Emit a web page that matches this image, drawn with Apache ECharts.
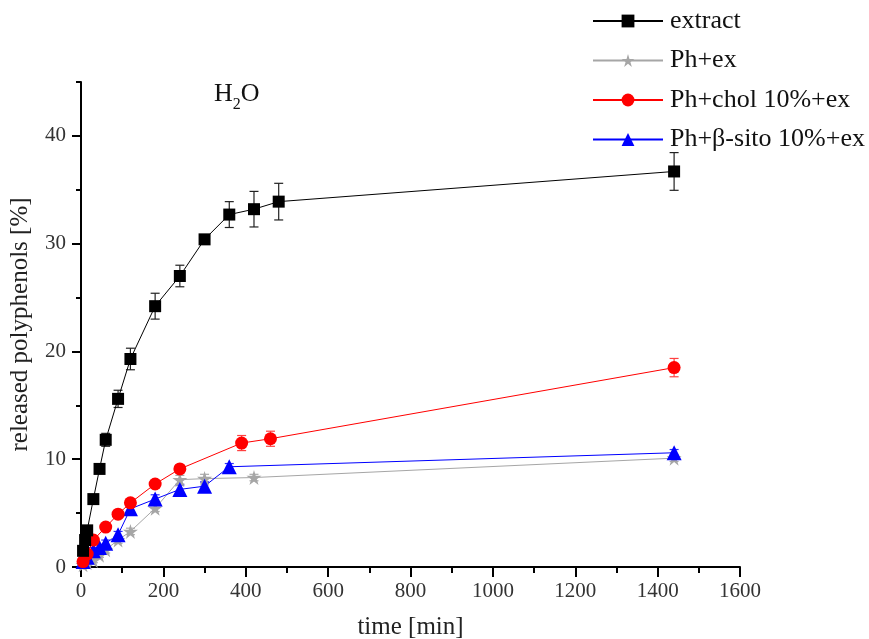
<!DOCTYPE html>
<html>
<head>
<meta charset="utf-8">
<script src="https://cdn.jsdelivr.net/npm/echarts@6/dist/echarts.min.js"></script>
<style>
  html, body { margin: 0; padding: 0; background: #fff; }
  #chart { width: 869px; height: 639px; }
</style>
</head>
<body>
<div id="chart"></div>
<script>
// Release of polyphenols in water over time
const seriesNames = ['extract', 'Ph+ex', 'Ph+chol 10%+ex', 'Ph+β-sito 10%+ex'];

const extractTime = [5, 10, 15, 30, 45, 60, 90, 120, 180, 240, 300, 360, 420, 480, 1440];
const extractVal  = [1.5, 2.5, 3.4, 6.3, 9.1, 11.8, 15.6, 19.3, 24.2, 27.0, 30.4, 32.7, 33.2, 33.9, 36.7];
const extractErr  = [0.2, 0.2, 0.3, 0.3, 0.4, 0.6, 0.8, 1.0, 1.2, 1.0, 0.3, 1.2, 1.65, 1.7, 1.75];

const phTime = [5, 15, 30, 45, 60, 90, 120, 180, 240, 300, 420, 1440];
const phVal  = [0.2, 0.4, 0.6, 1.1, 1.6, 2.5, 3.3, 5.45, 8.1, 8.2, 8.3, 10.1];
const phErr  = [0.1, 0.2, 0.2, 0.2, 0.3, 0.3, 0.3, 0.3, 0.4, 0.4, 0.3, 0.3];

const cholTime = [5, 15, 30, 60, 90, 120, 180, 240, 390, 460, 1440];
const cholVal  = [0.5, 1.2, 2.5, 3.7, 4.9, 5.95, 7.7, 9.1, 11.5, 11.9, 18.5];
const cholErr  = [0.2, 0.3, 0.3, 0.3, 0.3, 0.3, 0.3, 0.3, 0.7, 0.7, 0.85];

const sitoTime = [5, 15, 30, 45, 60, 90, 120, 180, 240, 300, 360, 1440];
const sitoVal  = [0.5, 0.9, 1.5, 1.8, 2.2, 3.0, 5.4, 6.3, 7.2, 7.5, 9.3, 10.6];
const sitoErr  = [0.2, 0.2, 0.3, 0.3, 0.3, 0.3, 0.4, 0.4, 0.4, 0.4, 0.3, 0.3];

const xTickLabels = [0, 200, 400, 600, 800, 1000, 1200, 1400, 1600];
const yTickLabels = [0, 10, 20, 30, 40];
const yMinorTicks = [5, 15, 25, 35, 45];

const FONT = 'Liberation Serif';
const STAR = 'path://M50,0 L61,35 L98,35 L68,57 L79,92 L50,70 L21,92 L32,57 L2,35 L39,35 Z';

function pairs(t, v) { return t.map((x, i) => [x, v[i]]); }
function errTriples(t, v, e) { return t.map((x, i) => [x, v[i] - e[i], v[i] + e[i]]); }

function errorSeries(t, v, e, color) {
  return {
    type: 'custom',
    z: 1,
    silent: true,
    data: errTriples(t, v, e),
    renderItem: function (params, api) {
      const lo = api.coord([api.value(0), api.value(1)]);
      const hi = api.coord([api.value(0), api.value(2)]);
      const hw = 4.5;
      const st = { stroke: color, lineWidth: 1.2 };
      return {
        type: 'group',
        children: [
          { type: 'line', shape: { x1: lo[0], y1: lo[1], x2: hi[0], y2: hi[1] }, style: st },
          { type: 'line', shape: { x1: lo[0] - hw, y1: lo[1], x2: lo[0] + hw, y2: lo[1] }, style: st },
          { type: 'line', shape: { x1: hi[0] - hw, y1: hi[1], x2: hi[0] + hw, y2: hi[1] }, style: st }
        ]
      };
    }
  };
}

function lineSeries(name, t, v, color, symbol, size) {
  return {
    name: name,
    type: 'line',
    z: 3,
    data: pairs(t, v),
    symbol: symbol,
    symbolSize: size,
    showAllSymbol: true,
    lineStyle: { color: color, width: 1 },
    itemStyle: { color: color },
    emphasis: { disabled: true },
    animation: false
  };
}

const chart = echarts.init(document.getElementById('chart'), null, { renderer: 'canvas' });

chart.setOption({
  animation: false,
  backgroundColor: '#fff',
  textStyle: { fontFamily: FONT },
  title: {
    text: '{a|H}{b|2}{a|O}',
    left: 209,
    top: 72,
    textStyle: {
      fontWeight: 'normal',
      rich: {
        a: { fontFamily: FONT, fontSize: 26, fontWeight: 'normal', color: '#111', lineHeight: 30, verticalAlign: 'bottom' },
        b: { fontFamily: FONT, fontSize: 16, fontWeight: 'normal', color: '#111', lineHeight: 30, verticalAlign: 'bottom', padding: [0, 0, -6, 0] }
      }
    }
  },
  legend: {
    orient: 'vertical',
    left: 592,
    top: 8,
    padding: 0,
    itemWidth: 70,
    itemHeight: 16,
    itemGap: 13.5,
    itemStyle: { borderWidth: 0 },
    textStyle: { fontFamily: FONT, fontSize: 26, color: '#111', padding: [0, 0, 0, 2] },
    data: seriesNames
  },
  grid: { left: 81, right: 129, top: 82, bottom: 72, containLabel: false, outerBoundsMode: 'none' },
  xAxis: {
    type: 'value',
    min: 0,
    max: 1600,
    interval: 200,
    name: 'time [min]',
    nameLocation: 'middle',
    nameGap: 48,
    nameTextStyle: { fontFamily: FONT, fontSize: 25, color: '#222' },
    axisLine: { show: true, lineStyle: { color: '#000', width: 2 } },
    axisTick: { show: true, length: 10, lineStyle: { color: '#000', width: 2 } },
    minorTick: { show: true, splitNumber: 2, length: 6, lineStyle: { color: '#000', width: 2 } },
    axisLabel: { fontFamily: FONT, fontSize: 21, color: '#333', margin: 14,
                 customValues: xTickLabels, formatter: v => String(v) },
    splitLine: { show: false }
  },
  yAxis: [
    {
      type: 'value',
      min: 0,
      max: 45,
      interval: 5,
      name: 'released polyphenols [%]',
      nameLocation: 'middle',
      nameGap: 48,
      nameTextStyle: { fontFamily: FONT, fontSize: 25, color: '#222' },
      axisLine: { show: true, lineStyle: { color: '#000', width: 2 } },
      axisTick: { show: true, length: 9, lineStyle: { color: '#000', width: 2 }, customValues: yTickLabels },
      axisLabel: { fontFamily: FONT, fontSize: 21, color: '#333', margin: 15,
                   customValues: yTickLabels, formatter: v => String(v) },
      splitLine: { show: false }
    },
    {
      type: 'value',
      min: 0,
      max: 45,
      interval: 5,
      position: 'left',
      axisLine: { show: false },
      axisTick: { show: true, length: 5, lineStyle: { color: '#000', width: 2 }, customValues: yMinorTicks },
      axisLabel: { show: false },
      splitLine: { show: false }
    }
  ],
  series: [
    errorSeries(extractTime, extractVal, extractErr, '#222'),
    errorSeries(phTime, phVal, phErr, '#aaa'),
    errorSeries(cholTime, cholVal, cholErr, '#ff4040'),
    errorSeries(sitoTime, sitoVal, sitoErr, '#3030ff'),
    lineSeries(seriesNames[1], phTime, phVal, '#a6a6a6', STAR, 15),
    lineSeries(seriesNames[3], sitoTime, sitoVal, '#0000ff', 'triangle', 15),
    lineSeries(seriesNames[2], cholTime, cholVal, '#ff0000', 'circle', 13),
    lineSeries(seriesNames[0], extractTime, extractVal, '#000000', 'rect', 12)
  ]
});
</script>
</body>
</html>
